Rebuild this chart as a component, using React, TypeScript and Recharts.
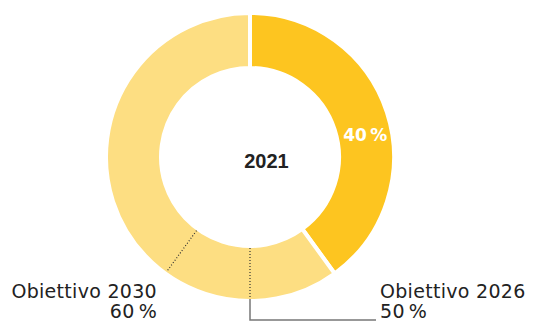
import { Cell, Label, Pie, PieChart } from "recharts";

// quota attuale (2021) vs resto
const currentYear = "2021";
const currentShare = 40;

// obiettivi cumulativi
const targetNames = ["Obiettivo 2026", "Obiettivo 2030"];
const targetShares = [50, 60];

const DARK = "#FDC520";
const LIGHT = "#FDDE82";
const TEXT = "#222222";
const RAD = Math.PI / 180;

const ringData = [
  { name: currentYear, value: currentShare },
  { name: "resto", value: 100 - currentShare },
];

// slices ending at each target mark
const targetData = targetShares
  .map((v, i) => ({ name: targetNames[i], share: v, value: v - (i ? targetShares[i - 1] : 0) }))
  .concat([{ name: "", share: 100, value: 100 - targetShares[targetShares.length - 1] }]);

const polar = (cx: number, cy: number, r: number, angle: number) => ({
  x: cx + r * Math.cos(-angle * RAD),
  y: cy + r * Math.sin(-angle * RAD),
});

const fmt = (v: number) => `${v}\u2009%`;

function CurrentLabel(props: any) {
  const { cx, cy, midAngle, innerRadius, outerRadius, index } = props;
  if (index !== 0) return null;
  const p = polar(cx, cy, (innerRadius + outerRadius) / 2 + 1, midAngle - 7);
  return (
    <text
      x={p.x}
      y={p.y}
      fill="#fff"
      textAnchor="middle"
      dominantBaseline="central"
      style={{ fontFamily: "DejaVu Sans", fontSize: 17, fontWeight: 700 }}
    >
      {fmt(currentShare)}
    </text>
  );
}

function TargetLabel(props: any) {
  const { cx, cy, endAngle, innerRadius, outerRadius, index, payload } = props;
  if (index >= targetNames.length) return null;
  const a = polar(cx, cy, innerRadius, endAngle);
  const b = polar(cx, cy, outerRadius, endAngle);
  const txt = { fontFamily: "DejaVu Sans", fontSize: 19, letterSpacing: 0.3, fill: TEXT };
  const y1 = cy + 141;
  const y2 = cy + 161;
  if (index === 0) {
    return (
      <g>
        <line x1={a.x} y1={a.y} x2={b.x} y2={b.y} stroke="#333" strokeWidth={1.2} strokeDasharray="1 2" />
        <polyline
          points={`${b.x},${b.y} ${b.x},${b.y + 21} ${b.x + 126},${b.y + 21}`}
          fill="none"
          stroke="#777"
          strokeWidth={1.5}
        />
        <text x={cx + 130} y={y1} textAnchor="start" style={txt}>{payload.name}</text>
        <text x={cx + 130} y={y2} textAnchor="start" style={txt}>{fmt(payload.share)}</text>
      </g>
    );
  }
  return (
    <g>
      <line x1={a.x} y1={a.y} x2={b.x} y2={b.y} stroke="#333" strokeWidth={1.2} strokeDasharray="1 2" />
      <text x={cx - 93} y={y1} textAnchor="end" style={txt}>{payload.name}</text>
      <text x={cx - 93} y={y2} textAnchor="end" style={txt}>{fmt(payload.share)}</text>
    </g>
  );
}

export default function App() {
  return (
    <div style={{ position: "absolute", left: 0, top: 0 }}>
      <PieChart width={533} height={322} margin={{ top: 0, right: 0, bottom: 0, left: 0 }}>
        <Pie
          data={ringData}
          dataKey="value"
          cx={250}
          cy={157}
          innerRadius={89}
          outerRadius={144}
          startAngle={90}
          endAngle={-270}
          stroke="#fff"
          strokeWidth={4}
          label={CurrentLabel}
          labelLine={false}
          isAnimationActive={false}
        >
          <Cell fill={DARK} />
          <Cell fill={LIGHT} />
          <Label
            value={currentYear}
            position="center"
            style={{ fontFamily: "Liberation Sans", fontSize: 20, fontWeight: 700, fill: TEXT }}
          />
        </Pie>
        <Pie
          data={targetData}
          dataKey="value"
          cx={250}
          cy={157}
          innerRadius={91}
          outerRadius={142}
          startAngle={90}
          endAngle={-270}
          fill="none"
          stroke="none"
          label={TargetLabel}
          labelLine={false}
          isAnimationActive={false}
        />
      </PieChart>
    </div>
  );
}
